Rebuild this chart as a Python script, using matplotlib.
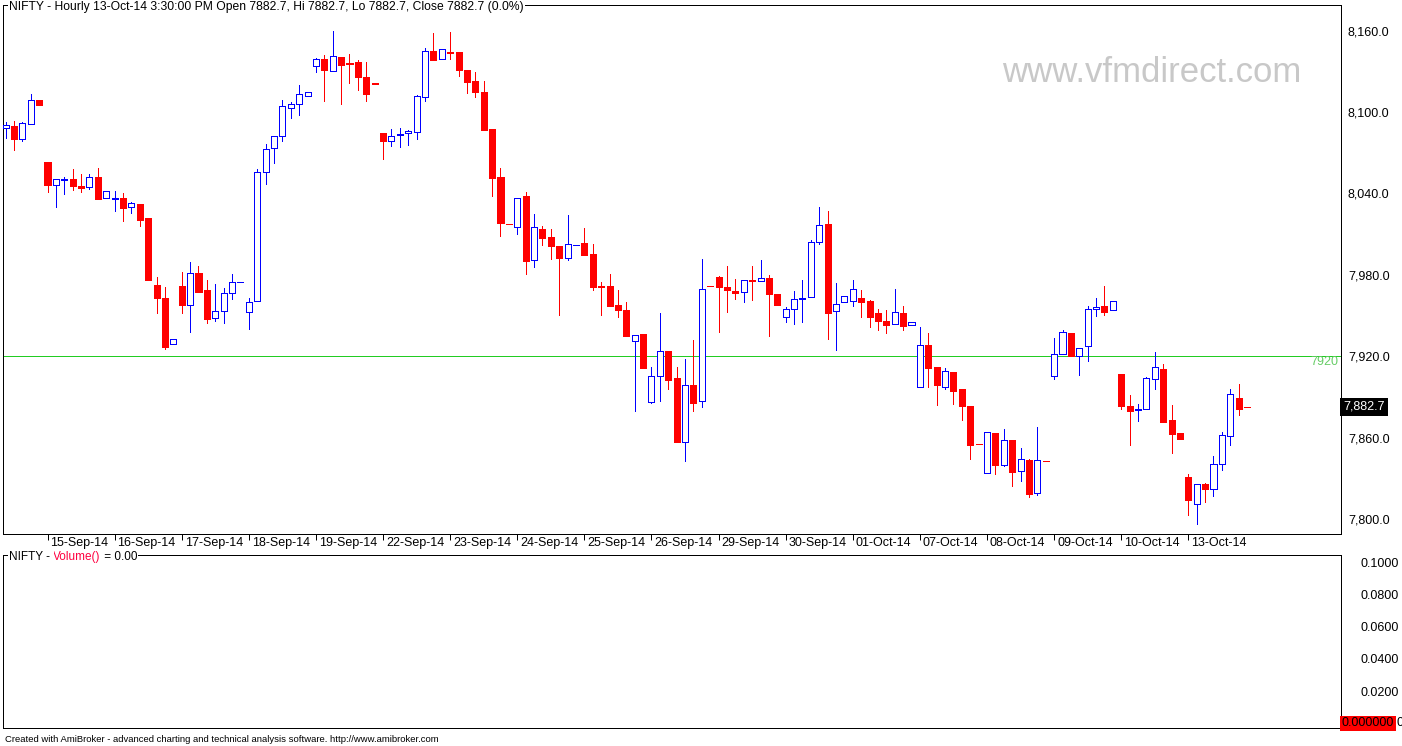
import numpy as np
import matplotlib
matplotlib.use('Agg')
import matplotlib.pyplot as plt
from matplotlib.patches import Rectangle
from matplotlib.transforms import blended_transform_factory

plt.rcParams['font.family'] = ['Liberation Sans', 'DejaVu Sans']

# hourly NIFTY bars, 12-Sep-14 (last 5 bars) .. 13-Oct-14
opens = [8088.0, 8089.7, 8080.4, 8091.4, 8108.9,
         8063.2, 8046.0, 8049.7, 8050.6, 8045.2, 8044.5, 8052.1, 8036.4,
         8036.1, 8036.6, 8029.7, 8032.2, 8021.9, 7972.5, 7962.7, 7928.7,
         7971.8, 7957.5, 7981.1, 7968.6, 7947.9, 7953.1, 7966.3, 7974.5,
         7952.3, 7960.9, 8055.6, 8073.3, 8082.1, 8102.8, 8105.7, 8111.6,
         8133.7, 8139.1, 8130.5, 8140.4, 8136.2, 8136.9, 8125.9, 8121.2,
         8084.6, 8078.4, 8082.8, 8084.3, 8085.6, 8110.9, 8145.0, 8138.9,
         8144.0, 8144.0, 8130.7, 8122.9, 8114.8, 8087.5, 8052.1, 8017.6,
         8015.0, 8037.9, 7990.7, 8013.5, 8007.9, 8001.3, 7992.7, 8001.9,
         8003.5, 7995.4, 7971.8, 7971.8, 7957.7, 7954.1, 7931.5, 7936.4,
         7886.5, 7905.6, 7923.6, 7903.7, 7857.0, 7898.5, 7886.7, 7971.6,
         7978.2, 7971.0, 7967.8, 7967.1, 7976.2, 7975.2, 7977.7, 7965.9,
         7948.7, 7954.6, 7961.9, 7963.4, 8004.0, 8017.5, 7953.1, 7959.7,
         7960.5, 7962.9, 7960.7, 7951.9, 7946.0, 7943.5, 7951.9, 7942.8,
         7897.0, 7928.3, 7912.0, 7897.5, 7908.4, 7895.8, 7883.3, 7855.1,
         7833.6, 7863.1, 7840.0, 7858.2, 7835.1, 7843.5, 7818.9, 7842.6,
         7905.2, 7921.4, 7937.1, 7920.4, 7927.3, 7954.6, 7957.0, 7953.8,
         7906.9, 7883.0, 7880.5, 7881.3, 7903.4, 7910.6, 7872.9, 7863.1,
         7830.9, 7810.8, 7825.5, 7821.8, 7840.3, 7860.9, 7888.9, 7882.7]
highs = [8092.4, 8093.2, 8092.4, 8113.3, 8108.9,
         8063.2, 8050.4, 8051.9, 8058.0, 8054.3, 8054.3, 8058.8, 8041.5,
         8041.8, 8040.3, 8033.7, 8032.2, 8021.9, 7978.4, 7970.8, 7932.4,
         7981.8, 7989.2, 7986.5, 7976.2, 7973.2, 7970.0, 7980.6, 7974.9,
         7962.7, 8057.8, 8076.5, 8082.1, 8108.7, 8107.4, 8120.0, 8114.6,
         8139.9, 8142.1, 8159.8, 8140.4, 8142.8, 8138.4, 8136.9, 8121.2,
         8084.6, 8087.5, 8088.3, 8086.5, 8112.3, 8147.0, 8158.3, 8146.2,
         8159.0, 8144.0, 8130.7, 8129.5, 8122.9, 8087.5, 8058.9, 8017.6,
         8036.4, 8040.8, 8024.9, 8016.0, 8013.5, 8001.3, 8024.1, 8002.3,
         8014.5, 8002.7, 7974.7, 7980.6, 7968.8, 7960.0, 7935.4, 7936.4,
         7912.0, 7951.6, 7923.6, 7912.0, 7917.7, 7931.7, 7991.4, 7971.6,
         7979.1, 7986.3, 7976.7, 7975.9, 7986.3, 7990.9, 7979.6, 7965.9,
         7956.3, 7968.1, 7976.2, 8005.7, 8030.0, 8027.1, 7974.0, 7964.1,
         7976.2, 7968.8, 7961.4, 7954.8, 7953.8, 7969.6, 7957.0, 7945.0,
         7941.5, 7936.8, 7912.0, 7911.0, 7908.4, 7895.8, 7883.3, 7855.1,
         7863.9, 7863.1, 7866.3, 7858.2, 7852.3, 7844.4, 7867.8, 7842.6,
         7933.4, 7939.3, 7937.1, 7925.8, 7957.0, 7962.9, 7971.8, 7960.5,
         7906.9, 7891.4, 7884.7, 7904.4, 7923.1, 7914.5, 7884.0, 7863.1,
         7833.1, 7825.5, 7826.3, 7846.4, 7864.1, 7895.8, 7899.5, 7882.7]
lows = [8080.6, 8072.3, 8078.9, 8091.4, 8105.5,
        8041.3, 8030.2, 8039.8, 8042.8, 8041.3, 8043.0, 8036.1, 8036.4,
        8027.3, 8019.7, 8025.8, 8016.0, 7976.4, 7952.1, 7925.3, 7928.7,
        7952.1, 7938.1, 7967.6, 7944.7, 7946.2, 7944.7, 7962.2, 7974.5,
        7940.0, 7960.9, 8047.0, 8062.7, 8078.9, 8095.9, 8098.1, 8111.6,
        8129.8, 8108.2, 8130.5, 8106.2, 8121.7, 8116.3, 8108.2, 8121.0,
        8065.6, 8075.2, 8074.5, 8076.0, 8080.4, 8108.4, 8138.6, 8138.9,
        8139.3, 8126.8, 8114.3, 8111.3, 8087.0, 8038.3, 8008.8, 8017.4,
        8010.4, 7980.9, 7986.0, 8002.2, 7991.7, 7950.4, 7991.2, 8001.9,
        7994.9, 7968.8, 7950.4, 7957.0, 7948.9, 7934.9, 7879.8, 7911.3,
        7885.7, 7887.2, 7896.1, 7857.0, 7843.0, 7879.8, 7882.8, 7971.4,
        7938.1, 7952.8, 7962.4, 7960.2, 7961.7, 7975.2, 7935.1, 7958.0,
        7945.5, 7944.0, 7945.5, 7963.4, 8002.7, 7932.7, 7924.6, 7959.7,
        7957.3, 7949.2, 7941.8, 7939.6, 7937.4, 7943.5, 7939.6, 7942.8,
        7897.0, 7897.5, 7884.3, 7895.8, 7884.8, 7873.2, 7844.4, 7854.9,
        7833.6, 7833.4, 7839.3, 7824.5, 7828.2, 7816.4, 7817.9, 7842.4,
        7903.4, 7921.4, 7920.4, 7906.4, 7916.7, 7949.9, 7950.4, 7953.8,
        7881.3, 7854.5, 7872.5, 7881.3, 7895.8, 7871.7, 7848.6, 7859.2,
        7803.1, 7796.5, 7812.7, 7817.2, 7836.3, 7854.8, 7876.9, 7882.7]
closes = [8090.5, 8080.4, 8091.7, 8108.7, 8105.5,
          8046.5, 8050.4, 8050.4, 8045.7, 8044.3, 8051.9, 8036.1, 8041.5,
          8036.6, 8029.5, 8032.7, 8020.7, 7976.4, 7963.1, 7927.0, 7932.4,
          7958.0, 7981.1, 7967.6, 7947.7, 7953.1, 7966.3, 7974.5, 7974.9,
          7959.7, 8055.8, 8072.5, 8082.1, 8104.2, 8105.7, 8113.1, 8114.6,
          8139.1, 8131.3, 8141.1, 8135.0, 8135.7, 8126.1, 8113.6, 8121.0,
          8078.9, 8082.1, 8083.8, 8085.8, 8111.6, 8144.8, 8138.6, 8146.2,
          8143.8, 8131.2, 8122.4, 8115.0, 8087.0, 8051.6, 8018.4, 8017.4,
          8036.4, 7990.4, 8015.0, 8007.4, 8001.5, 7992.7, 8002.7, 8002.3,
          7994.9, 7971.3, 7971.3, 7957.0, 7954.3, 7934.9, 7935.4, 7911.3,
          7905.2, 7923.6, 7902.7, 7857.0, 7898.5, 7885.7, 7969.3, 7971.4,
          7971.3, 7969.1, 7966.8, 7975.9, 7975.7, 7977.4, 7966.1, 7958.0,
          7954.6, 7961.9, 7962.9, 8004.2, 8016.5, 7952.1, 7958.2, 7964.1,
          7969.3, 7960.2, 7949.2, 7946.2, 7943.2, 7952.3, 7942.5, 7945.0,
          7928.0, 7911.6, 7899.0, 7908.8, 7894.6, 7883.5, 7854.8, 7854.9,
          7863.9, 7840.0, 7858.0, 7834.9, 7843.9, 7818.6, 7843.2, 7842.4,
          7921.4, 7937.6, 7920.4, 7925.8, 7954.8, 7956.3, 7952.8, 7960.5,
          7883.5, 7879.8, 7881.0, 7903.7, 7911.8, 7871.7, 7862.9, 7859.2,
          7814.2, 7825.5, 7821.8, 7840.3, 7861.6, 7891.9, 7881.3, 7882.7]

day_labels = ['15-Sep-14', '16-Sep-14', '17-Sep-14', '18-Sep-14', '19-Sep-14',
              '22-Sep-14', '23-Sep-14', '24-Sep-14', '25-Sep-14', '26-Sep-14',
              '29-Sep-14', '30-Sep-14', '01-Oct-14', '07-Oct-14', '08-Oct-14',
              '09-Oct-14', '10-Oct-14', '13-Oct-14']
bars_before_first_label = 5
bars_per_day = 8

level = 7920
price_ticks = [7800, 7860, 7920, 7980, 8040, 8100, 8160]
volume_ticks = [0.02, 0.04, 0.06, 0.08, 0.10]
volume_last = 0.0

title = ('NIFTY - Hourly 13-Oct-14 3:30:00 PM Open 7882.7, Hi 7882.7, '
         'Lo 7882.7, Close 7882.7 (0.0%)')
footer = ('Created with AmiBroker - advanced charting and technical analysis '
          'software. http://www.amibroker.com')

UP = '#0000ff'
DOWN = '#ff0000'
PX = 0.72  # one pixel in points

W, H = 1402, 746
fig = plt.figure(figsize=(W / 100, H / 100), dpi=100)
fig.patch.set_facecolor('white')
left, right = 3.3, 1341.0
ax = fig.add_axes([left / W, 1 - 534 / H, (right - left) / W, (534 - 5.3) / H])
vax = fig.add_axes([left / W, 1 - 728 / H, (right - left) / W, (728 - 555) / H])

o = np.array(opens)
h = np.array(highs)
l = np.array(lows)
c = np.array(closes)
x = np.arange(len(o))
up = c > o
colors = np.where(up, UP, DOWN)

bw = 0.72
for i in x:
    col = colors[i]
    top, bot = max(o[i], c[i]), min(o[i], c[i])
    ax.vlines(i, top, h[i], color=col, lw=PX, antialiased=False, zorder=2)
    ax.vlines(i, l[i], bot, color=col, lw=PX, antialiased=False, zorder=2)
    ax.add_patch(Rectangle((i - bw / 2, bot), bw, top - bot,
                           facecolor='white' if up[i] else col, edgecolor=col,
                           lw=PX, antialiased=False, zorder=3))

ax.axhline(level, color='#22cc22', lw=PX, zorder=1)
ax.text(0.998, level, str(level), transform=blended_transform_factory(ax.transAxes, ax.transData),
        ha='right', va='top', color='#66cc66', fontsize=9)

xmin, xmax = -0.27, 159.2
ax.set_xlim(xmin, xmax)
ax.set_ylim(7788.9, 8178.7)
vax.set_xlim(xmin, xmax)
vax.set_ylim(-0.0029, 0.1045)

# day ticks
starts = [bars_before_first_label + bars_per_day * j for j in range(len(day_labels))]
ax.set_xticks(starts)
ax.set_xticklabels([])
ax.tick_params(axis='x', direction='out', length=4.3, width=PX, color='black')
tr = blended_transform_factory(ax.transData, ax.transAxes)
for s, lab in zip(starts, day_labels):
    ax.text(s + 0.35, -0.006, lab, transform=tr, ha='left', va='top', fontsize=9)

ax.yaxis.tick_right()
ax.set_yticks(price_ticks)
ax.set_yticklabels([f'{v:,.1f}' for v in price_ticks])
ax.tick_params(axis='y', length=0, pad=5, labelsize=9)

ax.text(1.0015, closes[-1], f'{closes[-1]:,.1f}', transform=blended_transform_factory(ax.transAxes, ax.transData),
        ha='left', va='center', color='white', fontsize=9,
        bbox=dict(boxstyle='square,pad=0.25', facecolor='black', edgecolor='none'), clip_on=False, zorder=5)

vax.set_xticks([])
vax.yaxis.tick_right()
vax.set_yticks(volume_ticks)
vax.set_yticklabels([f'{v:.4f}' for v in volume_ticks])
vax.tick_params(axis='y', length=0, pad=14, labelsize=9)
vtr = blended_transform_factory(vax.transAxes, vax.transData)
# last-value marker covers the 0.0000 axis label, only its last digit peeks out
box = vax.text(1.0005, volume_last, f'{volume_last:.6f}', transform=vtr,
               ha='left', va='center', color='black', fontsize=9,
               bbox=dict(boxstyle='square,pad=0.12', facecolor='#ff0000', edgecolor='none'),
               clip_on=False, zorder=5)
vax.annotate('0', xy=(1, 0.5), xycoords=box, xytext=(1.5, 0), textcoords='offset points',
             ha='left', va='center', fontsize=9, annotation_clip=False)

for a in (ax, vax):
    for sp in a.spines.values():
        sp.set_linewidth(PX)
        sp.set_color('black')

fig.text(1152 / W, 1 - 73 / H, 'www.vfmdirect.com', ha='center', va='center',
         fontsize=25, color='#c8c8c8')

fig.text(9 / W, 1 - 7 / H, title, ha='left', va='center', fontsize=8.75,
         bbox=dict(boxstyle='square,pad=0.1', facecolor='white', edgecolor='none'))

wbox = dict(boxstyle='square,pad=0.1', facecolor='white', edgecolor='none')
t1 = fig.text(9 / W, 1 - 557 / H, 'NIFTY - ', ha='left', va='center', fontsize=8.5, bbox=wbox)
a2 = fig.add_artist(plt.Annotation('Volume()', xy=(1, 0), xycoords=t1, ha='left', va='bottom',
                                   fontsize=8.5, color='#ff0040', bbox=wbox))
fig.add_artist(plt.Annotation(' = 0.00', xy=(1, 0), xycoords=a2, ha='left', va='bottom',
                              fontsize=8.5, color='black', bbox=wbox))

fig.text(5 / W, 1 - 740 / H, footer, ha='left', va='center', fontsize=6.8)

fig.savefig('out.png', dpi=100)
